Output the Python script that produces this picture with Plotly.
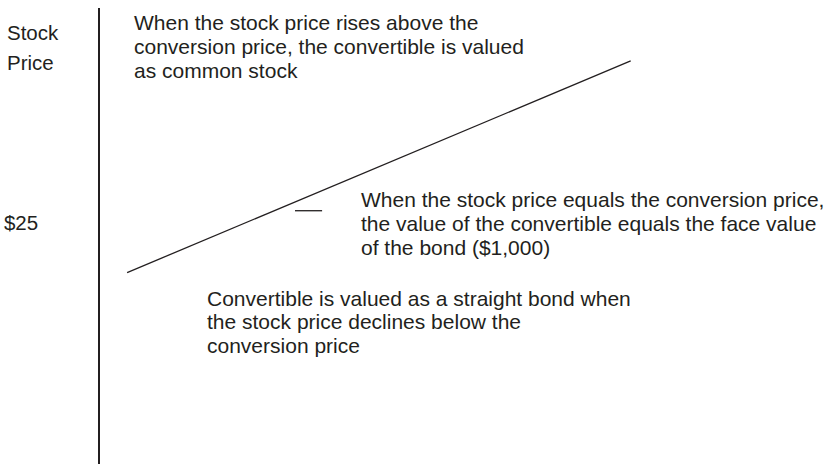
import plotly.graph_objects as go

# payoff line of the convertible (x: arbitrary value axis 0-100, y: stock price scale)
line_x = [3.7, 72.4]
line_y = [19.8, 41.7]

# short tick marking the conversion point
mark_x = [26.6, 30.3]
mark_y = [26.2, 26.2]

conversion_price = 25
price_label = "$25"

top_note = [
    "When the stock price rises above the",
    "conversion price, the convertible is valued",
    "as common stock",
]
mid_note = [
    "When the stock price equals the conversion price,",
    "the value of the convertible equals the face value",
    "of the bond ($1,000)",
]
low_note = [
    "Convertible is valued as a straight bond when",
    "the stock price declines below the",
    "conversion price",
]
axis_title = ["Stock", "Price"]

INK = "#231f20"
FONT = dict(family="Liberation Sans, Arial, sans-serif", size=21, color=INK)

fig = go.Figure()

fig.add_trace(
    go.Scatter(x=line_x, y=line_y, mode="lines", line=dict(color=INK, width=1.3), hoverinfo="skip")
)
fig.add_trace(
    go.Scatter(x=mark_x, y=mark_y, mode="lines", line=dict(color=INK, width=1.3), hoverinfo="skip")
)


def add_block(lines, x, y0, gap=2.5, xref="x", size=21):
    # one annotation per line so the line spacing can match the original
    for i, txt in enumerate(lines):
        fig.add_annotation(
            text=txt,
            x=x,
            y=y0 - i * gap,
            xref=xref,
            yref="y",
            xanchor="left",
            yanchor="middle",
            showarrow=False,
            align="left",
            font=dict(FONT, size=size),
            borderpad=0,
        )


add_block(top_note, 4.5, 45.72, gap=2.53)
add_block(mid_note, 35.5, 27.31, gap=2.48)
add_block(low_note, 14.5, 17.17, gap=2.48)
add_block(axis_title, -0.128, 44.59, gap=3.1, xref="paper", size=20.5)

fig.update_layout(
    width=833,
    height=464,
    margin=dict(l=100, r=0, t=8, b=0),
    paper_bgcolor="white",
    plot_bgcolor="white",
    showlegend=False,
    font=FONT,
)

fig.update_xaxes(range=[0, 100], visible=False)
fig.update_yaxes(
    range=[0, 47.17],
    showline=True,
    linecolor=INK,
    linewidth=1.5,
    showgrid=False,
    zeroline=False,
    ticks="",
    tickvals=[conversion_price],
    ticktext=[price_label],
    ticklabelstandoff=56,
    tickfont=dict(FONT, size=20.5),
)

# drop the browser's default body margin so the figure sits at the page corner
fig.write_html(
    "out.html",
    config={"displayModeBar": False},
    post_script="document.body.style.margin = '0';",
)
